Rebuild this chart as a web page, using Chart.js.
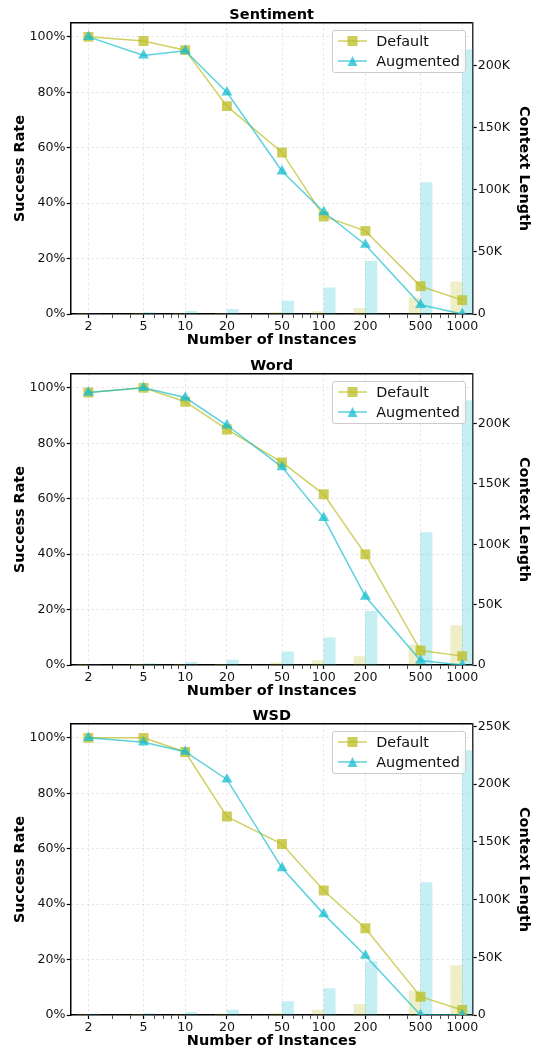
<!DOCTYPE html>
<html>
<head>
<meta charset="utf-8">
<script src="https://cdn.jsdelivr.net/npm/chart.js@4.4.1/dist/chart.umd.min.js"></script>
<style>
    body { margin: 0; width: 537px; height: 1055px; background: #fff; overflow: hidden; font-family: 'DejaVu Sans', sans-serif; }
    .panel { position: absolute; left: 0; width: 537px; height: 350px; }
    .panel canvas { display: block; }
    .legend {
        position: absolute; top: 30px; right: 71px; z-index: 2;
        background: rgba(255, 255, 255, 0.8); border: 1px solid #ccc; border-radius: 3px;
        padding: 0 5px 1.3px 4.5px; font-size: 14.4px; color: #111;
    }
    .legend .row { display: flex; align-items: center; height: 20px; }
    .legend svg { margin-right: 9.4px; }
</style>
</head>
<body>
<div class="panel" style="top:0px"><canvas id="chart0" width="537" height="350"></canvas></div>
<div class="panel" style="top:351px"><canvas id="chart1" width="537" height="350"></canvas></div>
<div class="panel" style="top:701px"><canvas id="chart2" width="537" height="350"></canvas></div>
<script>
// x positions (number of instances) and axis ticks
const instances = [2, 5, 10, 20, 50, 100, 200, 500, 1000];
const xLabels = [2, 5, 10, 20, 50, 100, 200, 500, 1000];
const xMinorTicks = [3, 4, 6, 7, 8, 9, 30, 40, 60, 70, 80, 90, 300, 400, 600, 700, 800, 900];
const rateTicks = [0, 20, 40, 60, 80, 100];
const ctxTicks = [0, 50, 100, 150, 200, 250];

// Sentiment: success rate (%) and context length (K tokens)
const sentimentDefault = [100, 98.5, 95.2, 75, 58.3, 35.2, 30, 10, 5];
const sentimentAugmented = [100, 93.3, 95, 80, 51.5, 36.8, 25, 3.3, 0];
const sentimentDefaultCtx = [0.05, 0.13, 0.25, 0.5, 1.3, 1.9, 4.6, 13.1, 26];
const sentimentAugmentedCtx = [0.4, 1.1, 2.1, 3.8, 10.5, 21, 42.7, 106, 213];

// Word
const wordDefault = [98.3, 100, 95, 85, 73.1, 61.6, 39.9, 5.2, 3.2];
const wordAugmented = [98.3, 100, 96.5, 86.5, 71.4, 53.1, 24.7, 1.6, 0];
const wordDefaultCtx = [0.05, 0.15, 0.3, 0.6, 1.7, 3.6, 6.9, 16.8, 32.6];
const wordAugmentedCtx = [0.45, 1.1, 2.2, 4.1, 11, 22.4, 44.5, 109.7, 219];

// WSD
const wsdDefault = [100, 100, 94.9, 71.6, 61.7, 44.9, 31.3, 6.6, 1.8];
const wsdAugmented = [100, 98.4, 95, 85, 53, 36.4, 21.4, 0, 0];
const wsdDefaultCtx = [0.05, 0.2, 0.4, 0.9, 1.4, 4.3, 9.3, 21, 42.8];
const wsdAugmentedCtx = [0.5, 1.2, 2.3, 4.3, 11.6, 22.8, 46.2, 114.7, 229];

// Right axis upper limits (K)
const ctxAxisMax = [234.5, 241, 252];

const panels = [
    { title: 'Sentiment', def: sentimentDefault, aug: sentimentAugmented, defCtx: sentimentDefaultCtx, augCtx: sentimentAugmentedCtx },
    { title: 'Word', def: wordDefault, aug: wordAugmented, defCtx: wordDefaultCtx, augCtx: wordAugmentedCtx },
    { title: 'WSD', def: wsdDefault, aug: wsdAugmented, defCtx: wsdDefaultCtx, augCtx: wsdAugmentedCtx }
];

const OLIVE = '188, 189, 34';
const CYAN = '23, 190, 207';
const FONT = "'DejaVu Sans', sans-serif";

Chart.defaults.font.family = FONT;
Chart.defaults.color = '#111';

function points(values) {
    return instances.map((x, i) => ({ x: x, y: values[i] }));
}

const isMajor = v => xLabels.includes(v);
const boldFont = size => ({ family: FONT, size: size, weight: 'bold', lineHeight: 1 });

function buildChart(canvasId, panel, ctxMax) {
    return new Chart(document.getElementById(canvasId), {
        type: 'line',
        data: {
            datasets: [
                // context length bars (right axis)
                { type: 'bar', label: 'Default ctx', data: points(panel.defCtx), xAxisID: 'x', yAxisID: 'y2',
                  backgroundColor: `rgba(${OLIVE}, 0.25)`, borderWidth: 0, barThickness: 11.5, order: 3 },
                { type: 'bar', label: 'Augmented ctx', data: points(panel.augCtx), xAxisID: 'x', yAxisID: 'y2',
                  backgroundColor: `rgba(${CYAN}, 0.25)`, borderWidth: 0, barThickness: 11.5, order: 3 },
                // success rate lines (left axis)
                { type: 'line', label: 'Default', data: points(panel.def), xAxisID: 'x', yAxisID: 'y',
                  borderColor: `rgba(${OLIVE}, 0.7)`, borderWidth: 1.5, tension: 0,
                  pointStyle: 'rect', pointRadius: 7, pointBorderWidth: 0,
                  pointBackgroundColor: `rgba(${OLIVE}, 0.75)`, order: 2 },
                { type: 'line', label: 'Augmented', data: points(panel.aug), xAxisID: 'x', yAxisID: 'y',
                  borderColor: `rgba(${CYAN}, 0.7)`, borderWidth: 1.5, tension: 0,
                  pointStyle: 'triangle', pointRadius: 6.3, pointBorderWidth: 0,
                  pointBackgroundColor: `rgba(${CYAN}, 0.75)`, order: 1 }
            ]
        },
        options: {
            responsive: false,
            devicePixelRatio: 1,
            animation: false,
            events: [],
            layout: { padding: 0 },
            plugins: {
                legend: { display: false },
                tooltip: { enabled: false },
                title: {
                    display: true, text: panel.title, fullSize: false, color: '#000',
                    font: boldFont(14.5), padding: { top: 8, bottom: 0.5 }
                }
            },
            scales: {
                x: {
                    type: 'logarithmic', position: 'bottom', min: 1.49, max: 1190, offset: false,
                    afterBuildTicks: s => { s.ticks = xLabels.concat(xMinorTicks).sort((a, b) => a - b).map(v => ({ value: v })); },
                    afterFit: s => { s.height = 36; },
                    ticks: {
                        autoSkip: false, maxRotation: 0, minRotation: 0, padding: 1.5, color: '#111',
                        font: { size: 12.6, lineHeight: 1.1 },
                        callback: v => isMajor(v) ? String(v) : ''
                    },
                    grid: {
                        offset: false,
                        color: c => (c.tick && isMajor(c.tick.value)) ? 'rgba(0, 0, 0, 0.12)' : 'rgba(0, 0, 0, 0)',
                        lineWidth: 0.8, tickColor: '#000', tickLength: 4,
                        tickWidth: c => (c.tick && isMajor(c.tick.value)) ? 1.2 : 0.7
                    },
                    border: { color: '#000', width: 1.5, dash: [2.5, 2.5] },
                    title: {
                        display: true, text: 'Number of Instances', color: '#000',
                        font: boldFont(14.5), padding: { top: 0, bottom: 2.3 }
                    }
                },
                xt: {
                    type: 'linear', position: 'top', display: true,
                    ticks: { display: false }, grid: { display: false },
                    border: { color: '#000', width: 1.5 },
                    afterFit: s => { s.height = 0; }
                },
                y: {
                    type: 'linear', position: 'left', min: 0, max: 105,
                    afterBuildTicks: s => { s.ticks = rateTicks.map(v => ({ value: v })); },
                    afterFit: s => { s.width = 70.7; },
                    ticks: { padding: 1.2, color: '#111', font: { size: 12.6 }, callback: v => v + '%' },
                    grid: { color: 'rgba(0, 0, 0, 0.12)', lineWidth: 0.8, tickColor: '#000', tickLength: 4, tickWidth: 1.2 },
                    border: { color: '#000', width: 1.5, dash: [2.5, 2.5] },
                    title: {
                        display: true, text: 'Success Rate', color: '#000',
                        font: boldFont(14.4), padding: { top: 13, bottom: 0 }
                    }
                },
                y2: {
                    type: 'linear', position: 'right', min: 0, max: ctxMax,
                    afterBuildTicks: s => { s.ticks = ctxTicks.filter(v => v <= ctxMax).map(v => ({ value: v })); },
                    afterFit: s => { s.width = 64.3; },
                    ticks: { padding: 1, color: '#111', font: { size: 12.6 }, callback: v => v === 0 ? '0' : v + 'K' },
                    grid: { drawOnChartArea: false, tickColor: '#000', tickLength: 4, tickWidth: 1.2 },
                    border: { color: '#333', width: 1.5 },
                    title: {
                        display: true, text: 'Context Length', color: '#000',
                        font: boldFont(14.4), padding: { top: 6.5, bottom: 0 }
                    }
                }
            }
        }
    });
}

// Legend box drawn as HTML over the upper right of each plot
function addLegend(canvasId) {
    const box = document.createElement('div');
    box.className = 'legend';
    box.innerHTML =
        `<div class="row"><svg width="29" height="14"><line x1="0" y1="7" x2="29" y2="7" stroke="rgba(${OLIVE},0.7)" stroke-width="1.5"/>` +
        `<rect x="9.5" y="2" width="10" height="10" fill="rgba(${OLIVE},0.75)"/></svg><span>Default</span></div>` +
        `<div class="row"><svg width="29" height="14"><line x1="0" y1="7" x2="29" y2="7" stroke="rgba(${CYAN},0.7)" stroke-width="1.5"/>` +
        `<polygon points="14.5,2 9.5,12 19.5,12" fill="rgba(${CYAN},0.75)"/></svg><span>Augmented</span></div>`;
    document.getElementById(canvasId).parentNode.appendChild(box);
}

panels.forEach((panel, i) => {
    buildChart('chart' + i, panel, ctxAxisMax[i]);
    addLegend('chart' + i);
});
</script>
</body>
</html>
